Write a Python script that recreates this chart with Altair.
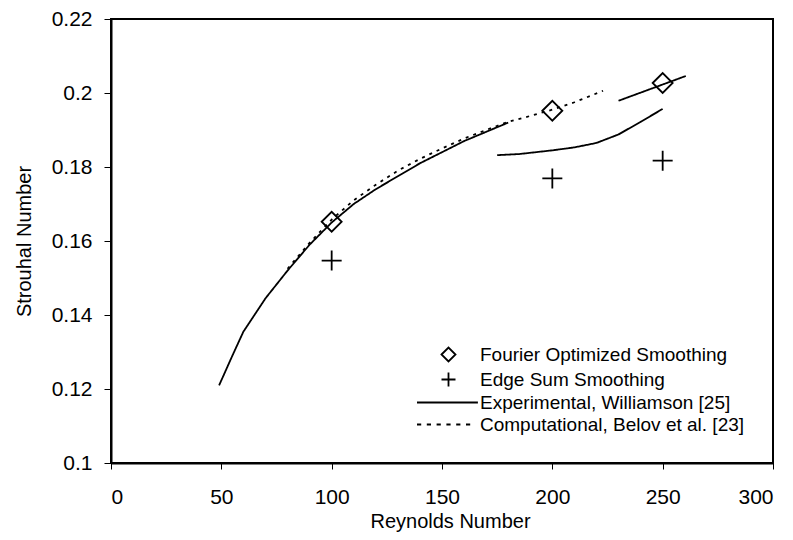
import altair as alt
import pandas as pd

FONT = "Liberation Sans"

series_names = [
    "Fourier Optimized Smoothing",
    "Edge Sum Smoothing",
    "Experimental, Williamson [25]",
    "Computational, Belov et al. [23]",
]

# Scatter points
re_fourier = [100, 200, 250]
st_fourier = [0.1652, 0.1952, 0.2027]
re_edge = [100, 200, 250]
st_edge = [0.1547, 0.1769, 0.1817]

# Experimental, Williamson (three separate solid segments)
re_exp1 = [49, 55, 60, 65, 70, 80, 90, 100, 110, 120, 130, 140, 150, 160, 170, 180]
st_exp1 = [0.121, 0.129, 0.1355, 0.140, 0.1445, 0.152, 0.159, 0.165, 0.170, 0.174,
           0.1775, 0.181, 0.184, 0.187, 0.1895, 0.192]
re_exp2 = [175, 185, 200, 210, 220, 230, 240, 250]
st_exp2 = [0.1832, 0.1835, 0.1845, 0.1853, 0.1865, 0.1888, 0.1922, 0.1957]
re_exp3 = [230, 260.5]
st_exp3 = [0.1979, 0.2046]

# Computational, Belov et al. (dotted)
re_comp = [80, 90, 100, 110, 120, 130, 140, 150, 160, 170, 180, 190, 200, 210, 223]
st_comp = [0.1525, 0.1595, 0.1658, 0.171, 0.1752, 0.179, 0.1822, 0.185, 0.1877,
           0.190, 0.1922, 0.1938, 0.1955, 0.1975, 0.2006]

pts = pd.DataFrame(
    [{"re": r, "st": s, "series": series_names[0]} for r, s in zip(re_fourier, st_fourier)]
    + [{"re": r, "st": s, "series": series_names[1]} for r, s in zip(re_edge, st_edge)]
)

rows = []
for seg, (rr, ss) in enumerate([(re_exp1, st_exp1), (re_exp2, st_exp2), (re_exp3, st_exp3)]):
    for r, s in zip(rr, ss):
        rows.append({"re": r, "st": s, "series": series_names[2], "seg": f"exp{seg}"})
for r, s in zip(re_comp, st_comp):
    rows.append({"re": r, "st": s, "series": series_names[3], "seg": "comp"})
lines = pd.DataFrame(rows)

diamond = "diamond"
plus = "M-1,0L1,0M0,-1L0,1"
solid_sym = "M-4.5,0L4.2,0"
dash_sym = ("M-4.5,0L-3.9,0M-3.1,0L-2.5,0M-1.7,0L-1.1,0"
            "M-0.3,0L0.3,0M1.1,0L1.7,0M2.5,0L3.1,0")

x_enc = alt.X(
    "re:Q",
    scale=alt.Scale(domain=[0, 300], nice=False),
    axis=alt.Axis(
        values=[0, 50, 100, 150, 200, 250, 300],
        title="Reynolds Number",
        grid=False,
        domainColor="black", domainWidth=2,
        tickColor="black", tickSize=6, tickWidth=1,
        labelFont=FONT, labelFontSize=21, labelColor="black", labelPadding=17,
        titleFont=FONT, titleFontSize=20, titleFontWeight="normal", titleColor="black",
        titleX=339, titleY=64, titleBaseline="alphabetic", titleAlign="center",
    ),
)
y_enc = alt.Y(
    "st:Q",
    scale=alt.Scale(domain=[0.1, 0.22], nice=False, zero=False),
    axis=alt.Axis(
        values=[0.1, 0.12, 0.14, 0.16, 0.18, 0.2, 0.22],
        format=".2~f",
        title="Strouhal Number",
        grid=False,
        domainColor="black", domainWidth=2,
        tickColor="black", tickSize=7, tickWidth=1,
        labelFont=FONT, labelFontSize=21, labelColor="black", labelPadding=12,
        titleFont=FONT, titleFontSize=20, titleFontWeight="normal", titleColor="black",
        titleX=-87, titleY=222, titleBaseline="middle", titleAlign="center", titleAngle=-90,
    ),
)

line_layer = alt.Chart(lines).mark_line(color="black", strokeWidth=1.8).encode(
    x=x_enc,
    y=y_enc,
    detail="seg:N",
    strokeDash=alt.StrokeDash(
        "series:N",
        scale=alt.Scale(domain=[series_names[2], series_names[3]], range=[[1, 0], [3, 5]]),
        legend=None,
    ),
)

point_layer = alt.Chart(pts).mark_point(
    filled=False, color="black", strokeWidth=1.8, size=400, opacity=1
).encode(
    x=x_enc,
    y=y_enc,
    shape=alt.Shape(
        "series:N",
        scale=alt.Scale(domain=series_names, range=[diamond, plus, solid_sym, dash_sym]),
        legend=alt.Legend(
            title=None,
            orient="none",
            legendX=328,
            legendY=326,
            padding=0,
            symbolSize=196,
            symbolStrokeColor="black",
            symbolFillColor="white",
            symbolStrokeWidth=1.8,
            labelFont=FONT,
            labelFontSize=19,
            labelColor="black",
            labelLimit=500,
            labelOffset=22,
            rowPadding=2,
        ),
    ),
)

chart = (
    alt.layer(line_layer, point_layer)
    .properties(
        width=662,
        height=444,
        autosize="none",
        padding={"left": 103, "top": 11, "right": 10, "bottom": 70},
    )
    .configure_view(stroke="black", strokeWidth=2)
)

chart.save("out.html", embed_options={"renderer": "svg", "actions": False})
